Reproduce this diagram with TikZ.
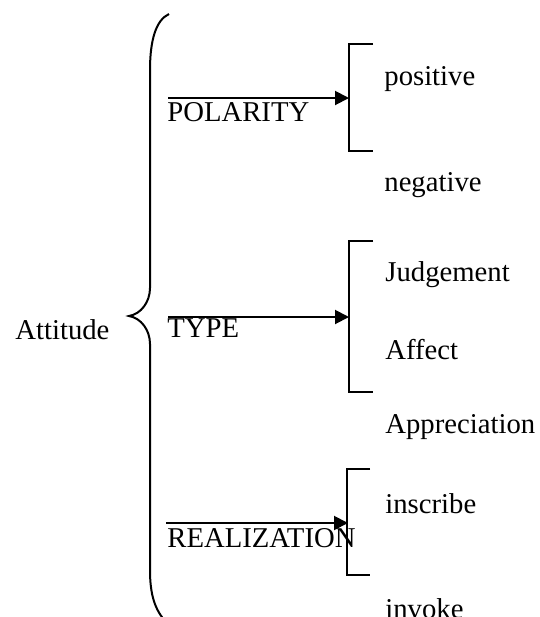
\documentclass[tikz,border=0pt]{standalone}
\usepackage{fontspec}
\setmainfont{Liberation Serif}
\usetikzlibrary{arrows.meta}
\begin{document}
\begin{tikzpicture}[x=0.5pt,y=-0.5pt,
  lbl/.style={anchor=base west,inner sep=0pt,font=\fontsize{14.35}{17}\selectfont},
  bline/.style={line width=1pt},
  conn/.style={line width=1pt,-{Triangle[length=7pt,width=7pt]}}]
\useasboundingbox (0,0) rectangle (540,617);
\clip (0,0) rectangle (540,617);
% brace
\draw[bline] (169,14) .. controls (156,20) and (150,40) .. (150,70)
  -- (150,288) .. controls (150,302) and (141,314) .. (129,316)
  .. controls (141,318) and (150,330) .. (150,344)
  -- (150,570) .. controls (150,595) and (155,610) .. (166,622);
% labels
\node[lbl] (att) at (15,339) {Attitude};
\node[lbl] (pol) at (167,121) {POLARITY};
\node[lbl] (typ) at (167,337) {TYPE};
\node[lbl] (rea) at (167,547) {REALIZATION};
\node[lbl] (pos) at (384,85) {positive};
\node[lbl] (neg) at (384,191) {negative};
\node[lbl] (jud) at (385,281) {Judgement};
\node[lbl] (aff) at (385,359) {Affect};
\node[lbl] (app) at (385,433) {Appreciation};
\node[lbl] (ins) at (385,513) {inscribe};
\node[lbl] (inv) at (385,618) {invoke};
% brackets
\coordinate (b1) at (349,98);
\coordinate (b2) at (349,317);
\coordinate (b3) at (348,523);
\draw[bline] (373,44) -- (349,44) -- (349,151) -- (373,151);
\draw[bline] (373,241) -- (349,241) -- (349,392) -- (373,392);
\draw[bline] (370,469) -- (347,469) -- (347,575) -- (370,575);
% arrows
\coordinate (s1) at (168,98);
\coordinate (s2) at (168,317);
\coordinate (s3) at (166,523);
\draw[conn] (s1) -- (b1);
\draw[conn] (s2) -- (b2);
\draw[conn] (s3) -- (b3);
\end{tikzpicture}
\end{document}
